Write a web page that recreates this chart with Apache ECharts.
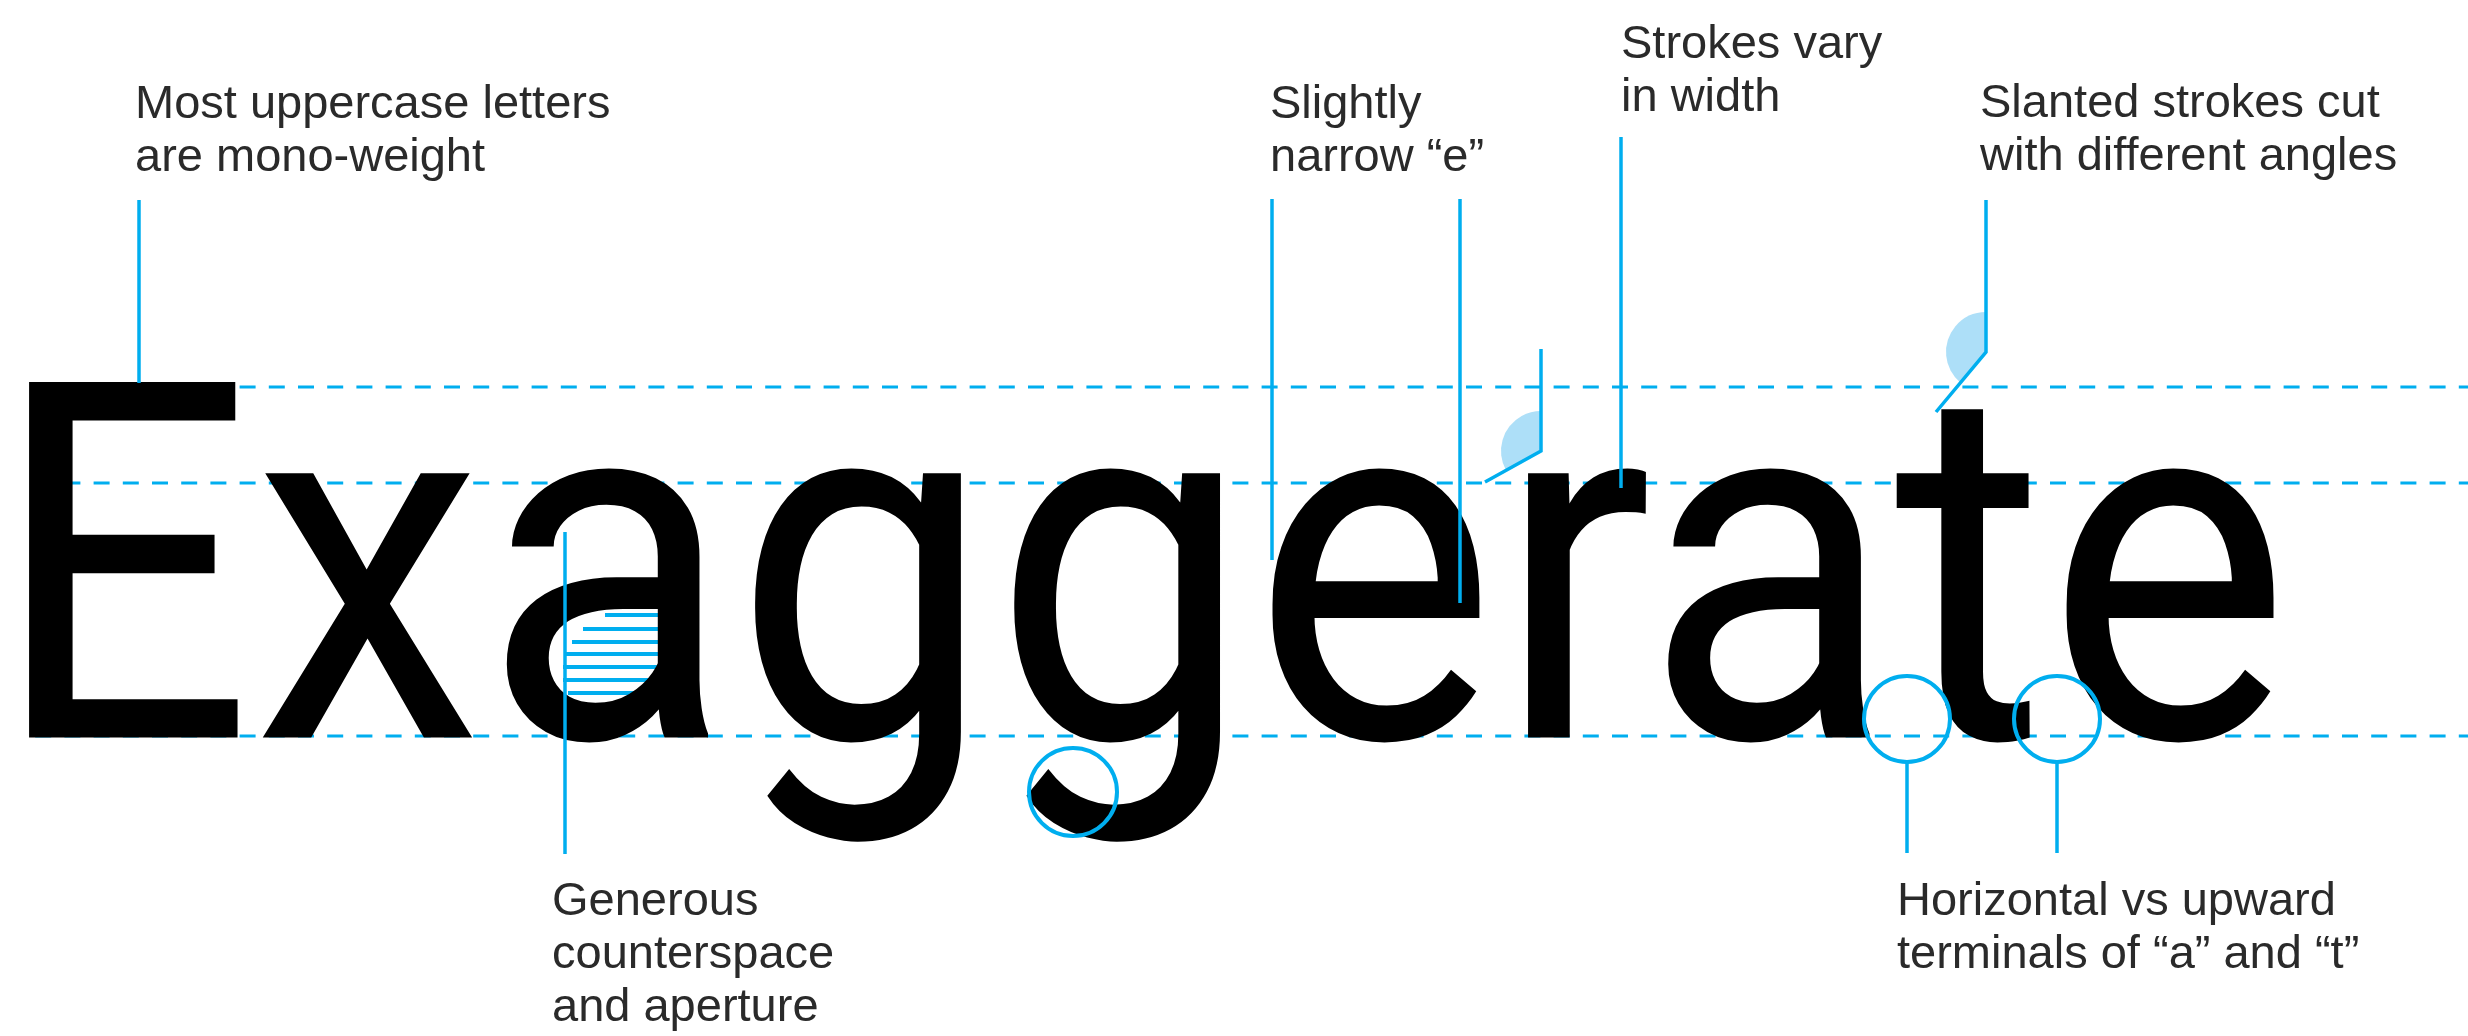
<!DOCTYPE html>
<html><head><meta charset="utf-8">
<script src="https://cdn.jsdelivr.net/npm/echarts@6/dist/echarts.min.js"></script>
<style>html,body{margin:0;padding:0;background:#fff}#c{width:2468px;height:1036px}</style>
</head><body><div id="c"></div>
<script>
// ---- content ----
const specimenWord = 'Exaggerate';
const guideNames = ['Cap height', 'x-height', 'Baseline'];
const guideY = [387, 483, 736];
const guideX = [25, 2468];

const noteTexts = [
  'Most uppercase letters\nare mono-weight',
  'Slightly\nnarrow \u201ce\u201d',
  'Strokes vary\nin width',
  'Slanted strokes cut\nwith different angles',
  'Generous\ncounterspace\nand aperture',
  'Horizontal vs upward\nterminals of \u201ca\u201d and \u201ct\u201d'
];
const noteX = [135, 1270, 1621, 1980, 552, 1897];
const noteBaseY = [121, 121, 61, 120, 918, 918];

const leaderPaths = [
  [[139, 200], [139, 383]],
  [[1272, 199], [1272, 560]],
  [[1460, 199], [1460, 603]],
  [[1621, 137], [1621, 488]],
  [[1986, 200], [1986, 352], [1936, 412]],
  [[1541, 349], [1541, 451], [1485, 482]],
  [[565, 532], [565, 854]],
  [[1907, 763], [1907, 853]],
  [[2057, 763], [2057, 853]]
];
const wedgeLeader = [5, 4];      // leaders whose corner carries an angle wedge
const wedgeR = [40, 40];

const circleX = [1073, 1907, 2057];
const circleY = [792, 719, 719];
const circleR = [44, 43, 43];

const hatchY  = [603, 615, 629, 642, 654, 667, 680, 693, 705];
const hatchX0 = [637, 605, 583, 572, 565, 563, 563, 568, 580];
const hatchX1 = [688, 688, 688, 688, 688, 687, 670, 650, 623];

// ---- styles ----
const BLUE = '#00aeef';
const LIGHT = '#addff8';
const INK = '#2a2a2a';
const LABEL_FONT = '"Liberation Sans", Arial, sans-serif';
const LABEL_SIZE = 47, LABEL_LH = 53;
const WORD_FONT = 'Roboto, sans-serif';
const WORD_SIZE = 500, WORD_SCALEX = 0.923, WORD_X = -9, WORD_BASE_OFFSET = 0.247;

const chart = echarts.init(document.getElementById('c'), null, {renderer: 'canvas'});

const series = [];

// dashed guide lines
guideY.forEach((y, i) => {
  series.push({
    type: 'line', name: guideNames[i], z: 1, silent: true,
    data: [[guideX[0], y], [guideX[1], y]], symbol: 'none',
    lineStyle: {color: BLUE, width: 3, type: [16, 13.2], dashOffset: 19}
  });
});

// hatch in counter of the "a"
series.push({
  type: 'custom', z: 2, silent: true,
  data: hatchY.map((y, i) => [hatchX0[i], y, hatchX1[i]]),
  renderItem: (p, api) => {
    const a = api.coord([api.value(0), api.value(1)]);
    const b = api.coord([api.value(2), api.value(1)]);
    return {type: 'line', shape: {x1: a[0], y1: a[1], x2: b[0], y2: b[1]},
      style: {stroke: BLUE, lineWidth: 4}};
  }
});

// specimen word
series.push({
  type: 'custom', z: 3, silent: true,
  data: [[WORD_X, guideY[2]]],
  renderItem: (p, api) => {
    const c = api.coord([api.value(0), api.value(1)]);
    return {type: 'text', x: c[0], y: c[1] - WORD_BASE_OFFSET * WORD_SIZE, scaleX: WORD_SCALEX,
      style: {text: specimenWord, fontFamily: WORD_FONT, fontSize: WORD_SIZE,
        fill: '#000', align: 'left', verticalAlign: 'middle'}};
  }
});

// angle wedges
series.push({
  type: 'custom', z: 4, silent: true,
  data: wedgeLeader.map((li, i) => [li, wedgeR[i]]),
  renderItem: (p, api) => {
    const path = leaderPaths[api.value(0)];
    const top = api.coord(path[0]), v = api.coord(path[1]), end = api.coord(path[2]);
    const a1 = Math.atan2(end[1] - v[1], end[0] - v[0]);
    const a2 = Math.atan2(top[1] - v[1], top[0] - v[0]) + 2 * Math.PI;
    const r = api.size([api.value(1), 0])[0];
    return {type: 'sector', shape: {cx: v[0], cy: v[1], r0: 0, r: r, startAngle: a1, endAngle: a2, clockwise: true},
      style: {fill: LIGHT}};
  }
});

// leader lines
series.push({
  type: 'custom', z: 5, silent: true,
  data: leaderPaths.map((_, i) => [i]),
  renderItem: (p, api) => {
    const pts = leaderPaths[api.value(0)].map(q => api.coord(q));
    return {type: 'polyline', shape: {points: pts},
      style: {stroke: BLUE, lineWidth: 3.5, fill: null, lineJoin: 'miter'}};
  }
});

// highlight circles
series.push({
  type: 'custom', z: 5, silent: true,
  data: circleX.map((x, i) => [x, circleY[i], circleR[i]]),
  renderItem: (p, api) => {
    const c = api.coord([api.value(0), api.value(1)]);
    const r = api.size([api.value(2), 0])[0];
    return {type: 'circle', shape: {cx: c[0], cy: c[1], r: r},
      style: {stroke: BLUE, lineWidth: 4, fill: null}};
  }
});

// annotation texts
series.push({
  type: 'custom', z: 6, silent: true,
  data: noteX.map((x, i) => [x, noteBaseY[i], i]),
  renderItem: (p, api) => {
    const c = api.coord([api.value(0), api.value(1)]);
    const top = c[1] - LABEL_LH / 2 - 0.3465 * LABEL_SIZE;
    return {type: 'text', x: c[0], y: top,
      style: {text: noteTexts[api.value(2)], fontFamily: LABEL_FONT, fontSize: LABEL_SIZE,
        lineHeight: LABEL_LH, fill: INK, align: 'left', verticalAlign: 'top'}};
  }
});

chart.setOption({
  animation: false,
  backgroundColor: '#fff',
  grid: {left: 0, right: 0, top: 0, bottom: 0, containLabel: false},
  xAxis: {type: 'value', min: 0, max: 2468, show: false},
  yAxis: {type: 'value', min: 0, max: 1036, inverse: true, show: false},
  series: series
});
</script></body></html>
